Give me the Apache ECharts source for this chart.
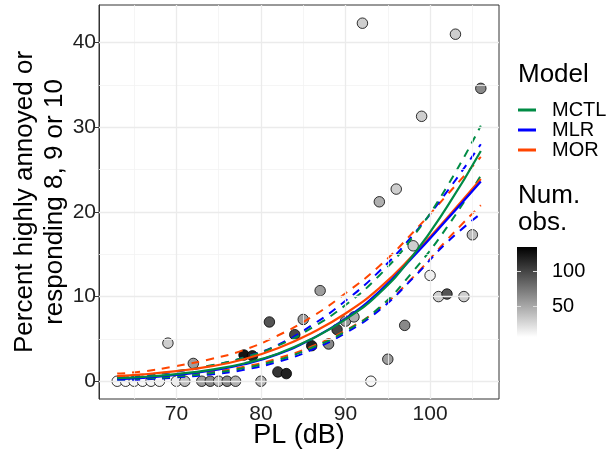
<!DOCTYPE html>
<html>
<head>
<meta charset="utf-8">
<script src="https://cdn.jsdelivr.net/npm/echarts@6/dist/echarts.min.js"></script>
<style>
  html, body { margin: 0; padding: 0; background: #fff; }
  #chart { width: 610px; height: 452px; }
</style>
</head>
<body>
<div id="chart"></div>
<script>
// Observed surveys: sound level, percent highly annoyed, number of respondents
const pl = [63, 64, 65, 66, 67, 68, 69, 70, 71, 72, 73, 74, 75, 76, 77, 78, 79, 80, 81, 82, 83,
            84, 85, 86, 87, 88, 89, 90, 91, 92, 93, 94, 95, 96, 97, 98, 99, 100, 101, 102, 103, 104, 105, 106];
const pctHA = [0, 0, 0, 0, 0, 0, 4.5, 0, 0, 2.1, 0, 0, 0, 0, 0, 3.1, 3.0, 0, 7.0, 1.1, 0.9,
               5.5, 7.3, 4.2, 10.7, 4.4, 6.1, 7.1, 7.6, 42.3, 0, 21.2, 2.6, 22.7, 6.6, 16.0, 31.3, 12.5, 10.0, 10.3, 41.0, 10.0, 17.3, 34.6];
const numObs = [8, 8, 8, 8, 9, 11, 30, 14, 38, 55, 55, 65, 38, 65, 46, 125, 118, 46, 92, 108, 118,
                100, 55, 118, 55, 65, 100, 55, 46, 30, 8, 46, 55, 30, 65, 30, 30, 12, 30, 92, 30, 30, 38, 65];

// Model predictions with confidence bounds
const curvePL = [63, 66, 70, 74, 78, 82, 86, 90, 94, 98, 102, 106];
const mctlFit = [0.35, 0.5, 0.85, 1.35, 2.1, 3.25, 5.0, 7.3, 10.4, 14.9, 20.6, 27.2];
const mctlLo  = [0.2, 0.3, 0.55, 0.95, 1.55, 2.5, 3.95, 5.9, 8.7, 13.0, 18.2, 24.3];
const mctlHi  = [0.55, 0.75, 1.2, 1.85, 2.8, 4.2, 6.3, 9.0, 12.5, 17.1, 23.0, 30.2];
const mlrFit  = [0.25, 0.4, 0.75, 1.25, 2.0, 3.2, 5.0, 7.4, 10.6, 14.7, 19.1, 23.6];
const mlrLo   = [0.1, 0.2, 0.45, 0.8, 1.35, 2.3, 3.7, 5.7, 8.4, 12.2, 16.4, 19.8];
const mlrHi   = [0.45, 0.65, 1.15, 1.8, 2.8, 4.3, 6.6, 9.5, 13.0, 17.3, 22.4, 28.0];
const morFit  = [0.6, 0.8, 1.2, 1.75, 2.6, 3.9, 5.7, 8.0, 11.0, 14.9, 19.3, 23.9];
const morLo   = [0.3, 0.45, 0.75, 1.1, 1.7, 2.7, 4.1, 6.0, 8.6, 12.3, 16.7, 20.8];
const morHi   = [0.9, 1.15, 1.8, 2.6, 3.7, 5.4, 7.6, 10.4, 13.6, 17.6, 22.0, 26.5];

// Axis ticks
const xTicks = [70, 80, 90, 100];
const xMinorTicks = [65, 75, 85, 95, 105];
const yTicks = [0, 10, 20, 30, 40];
const yMinorTicks = [5, 15, 25, 35];
const obsTicks = [50, 100];

const modelNames = ['MCTL', 'MLR', 'MOR'];
const modelColors = ['#008B45', '#0000FF', '#FF4500'];
const obsRange = [5, 135];

const FONT = "'Liberation Sans', Arial, sans-serif";
const TICK_TEXT = '#1f1f1f';
const chart = echarts.init(document.getElementById('chart'), null, { renderer: 'canvas' });

const toPairs = ys => curvePL.map((x, i) => [x, ys[i]]);
const models = [
  { fit: mctlFit, lo: mctlLo, hi: mctlHi },
  { fit: mlrFit, lo: mlrLo, hi: mlrHi },
  { fit: morFit, lo: morLo, hi: morHi }
];

const series = [];

// observed points (coloured by number of observations)
series.push({
  name: 'obs',
  type: 'scatter',
  data: pl.map((x, i) => [x, pctHA[i], numObs[i]]),
  symbol: 'circle',
  symbolSize: 10.5,
  itemStyle: { borderColor: '#000', borderWidth: 0.8, opacity: 1 },
  z: 3,
  silent: true
});

// panel grid lines
const gridLine = (w, c) => ({ color: c, width: w, type: 'solid' });
series.push({
  name: 'grid',
  type: 'line',
  data: [],
  silent: true,
  z: 1,
  markLine: {
    silent: true,
    symbol: ['none', 'none'],
    label: { show: false },
    animation: false,
    data: [
      ...xMinorTicks.map(v => ({ xAxis: v, lineStyle: gridLine(0.8, '#F2F2F2') })),
      ...yMinorTicks.map(v => ({ yAxis: v, lineStyle: gridLine(0.8, '#F2F2F2') })),
      ...xTicks.map(v => ({ xAxis: v, lineStyle: gridLine(1.3, '#EBEBEB') })),
      ...yTicks.map(v => ({ yAxis: v, lineStyle: gridLine(1.3, '#EBEBEB') }))
    ]
  }
});

// draw order: MOR, MLR, MCTL
const order = [2, 1, 0];
order.forEach(i => {
  ['lo', 'hi'].forEach(k => {
    series.push({
      name: modelNames[i] + ' ' + k,
      type: 'line',
      data: toPairs(models[i][k]),
      showSymbol: false,
      smooth: 0.5,
      silent: true,
      lineStyle: { color: modelColors[i], width: 2, type: [8, 7] },
      z: 4
    });
  });
});
order.forEach(i => {
  series.push({
    name: modelNames[i],
    type: 'line',
    data: toPairs(models[i].fit),
    showSymbol: false,
    smooth: 0.5,
    silent: true,
    color: modelColors[i],
    lineStyle: { color: modelColors[i], width: 2.2 },
    z: 5
  });
});

// colour bar for number of observations
const bar = { x: 517, y: 247, w: 20, h: 90 };
const barY = v => bar.y + bar.h - (v - obsRange[0]) / (obsRange[1] - obsRange[0]) * bar.h;
const graphics = [
  { type: 'text', left: 518, top: 62, style: { text: 'Model', font: '26px ' + FONT, fill: '#000' } },
  { type: 'text', left: 518, top: 182, style: { text: 'Num.\nobs.', font: '26px ' + FONT, lineHeight: 27, fill: '#000' } },
  {
    type: 'rect',
    shape: { x: bar.x, y: bar.y, width: bar.w, height: bar.h },
    style: {
      fill: new echarts.graphic.LinearGradient(0, 0, 0, 1, [
        { offset: 0, color: '#000000' },
        { offset: 1, color: '#ffffff' }
      ])
    }
  }
];
obsTicks.forEach(v => {
  const y = Math.round(barY(v)) + 0.5;
  graphics.push({ type: 'line', shape: { x1: bar.x, y1: y, x2: bar.x + 4, y2: y }, style: { stroke: '#dddddd', lineWidth: 1 } });
  graphics.push({ type: 'line', shape: { x1: bar.x + bar.w - 4, y1: y, x2: bar.x + bar.w, y2: y }, style: { stroke: '#dddddd', lineWidth: 1 } });
  graphics.push({ type: 'text', x: 552, y: y, style: { text: String(v), font: '20px ' + FONT, fill: '#000', verticalAlign: 'middle' } });
});

chart.setOption({
  animation: false,
  backgroundColor: '#fff',
  grid: {
    left: 99, right: 111, top: 5, bottom: 53,
    containLabel: false, outerBoundsMode: 'none',
    show: true, borderColor: '#333', borderWidth: 1, backgroundColor: 'transparent'
  },
  xAxis: {
    type: 'value',
    min: 60.85,
    max: 108.15,
    axisLine: { show: true, lineStyle: { color: '#333', width: 1 } },
    axisTick: { show: true, customValues: xTicks, length: 4, lineStyle: { color: '#333' } },
    axisLabel: { customValues: xTicks, fontSize: 21, fontFamily: FONT, color: TICK_TEXT, margin: 5 },
    splitLine: { show: false },
    name: 'PL (dB)',
    nameLocation: 'middle',
    nameGap: 23,
    nameMoveOverlap: false,
    nameTextStyle: { fontSize: 27, fontFamily: FONT, color: '#000', lineHeight: 27 }
  },
  yAxis: {
    type: 'value',
    min: -2.1,
    max: 44.45,
    axisLine: { show: true, lineStyle: { color: '#333', width: 1 } },
    axisTick: { show: true, customValues: yTicks, length: 4, lineStyle: { color: '#333' } },
    axisLabel: { customValues: yTicks, fontSize: 21, fontFamily: FONT, color: TICK_TEXT, margin: 3 },
    splitLine: { show: false },
    name: 'Percent highly annoyed or\nresponding 8, 9 or 10',
    nameLocation: 'middle',
    nameRotate: 90,
    nameGap: 29,
    nameMoveOverlap: false,
    nameTextStyle: { fontSize: 26, fontFamily: FONT, color: '#000', lineHeight: 30, align: 'center' }
  },
  visualMap: {
    type: 'continuous',
    show: false,
    seriesIndex: 0,
    dimension: 2,
    min: obsRange[0],
    max: obsRange[1],
    inRange: { color: ['#ffffff', '#000000'] }
  },
  legend: {
    orient: 'vertical',
    left: 513,
    top: 95,
    padding: 5,
    itemGap: 0,
    itemWidth: 18,
    itemHeight: 3,
    icon: 'rect',
    selectedMode: false,
    data: modelNames,
    textStyle: { fontSize: 20, fontFamily: FONT, color: '#000', lineHeight: 19, padding: [0, 0, 0, 11] }
  },
  graphic: graphics,
  series: series
});
</script>
</body>
</html>
